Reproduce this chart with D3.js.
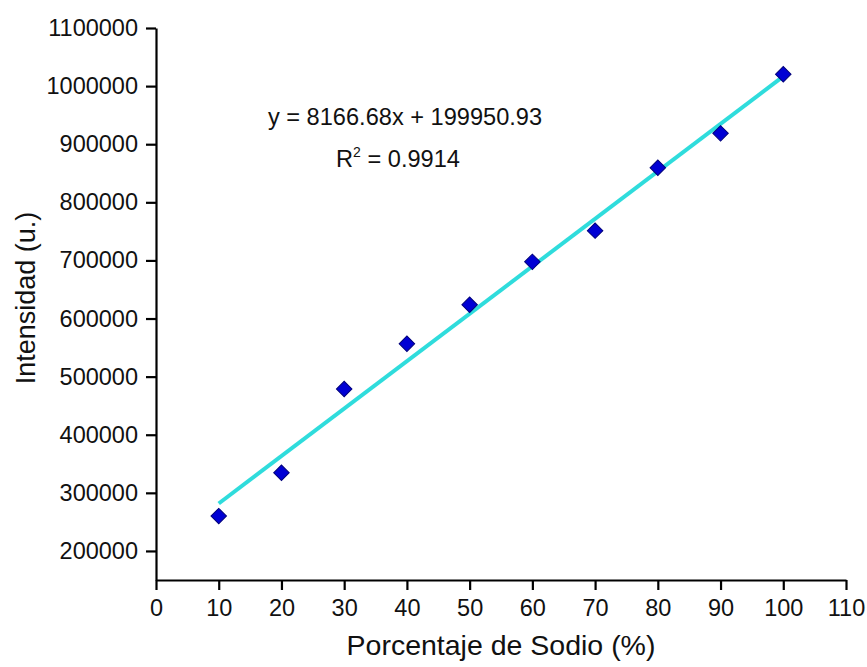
<!DOCTYPE html>
<html>
<head>
<meta charset="utf-8">
<script src="https://cdn.jsdelivr.net/npm/d3@7"></script>
<style>
  html, body { margin: 0; padding: 0; background: #fff; }
  svg { display: block; font-family: "Liberation Sans", Arial, sans-serif; }
</style>
</head>
<body>
<svg id="chart" width="867" height="667"></svg>
<script>
// Sodium percentage vs. measured intensity, with linear fit
const sodioPct = [10, 20, 30, 40, 50, 60, 70, 80, 90, 100];
const intensidad = [260000, 334600, 478700, 556600, 623800, 697500, 751200, 859600, 918700, 1020300];
const fitSlope = 8166.68;
const fitIntercept = 199950.93;
const fitR2 = 0.9914;
const xTicks = [0, 10, 20, 30, 40, 50, 60, 70, 80, 90, 100, 110];
const yTicks = [200000, 300000, 400000, 500000, 600000, 700000, 800000, 900000, 1000000, 1100000];

const svg = d3.select("#chart");

const x = d3.scaleLinear().domain([0, 110]).range([156, 846]);
const y = d3.scaleLinear().domain([150000, 1100000]).range([580, 28]);

// axes
const xAxis = d3.axisBottom(x).tickValues(xTicks).tickFormat(d3.format("d"))
  .tickSize(10).tickSizeOuter(0).tickPadding(6);
const yAxis = d3.axisLeft(y).tickValues(yTicks).tickFormat(d3.format("d"))
  .tickSize(10).tickSizeOuter(0).tickPadding(8);

const gx = svg.append("g").attr("transform", `translate(0,${y.range()[0]})`).call(xAxis);
const gy = svg.append("g").attr("transform", `translate(${x.range()[0]},0)`).call(yAxis);

[gx, gy].forEach(g => {
  g.select(".domain").attr("stroke", "#000").attr("stroke-width", 2.2);
  g.selectAll(".tick line").attr("stroke", "#000").attr("stroke-width", 2.2);
  g.selectAll(".tick text").attr("fill", "#111").style("font-size", "23.5px")
    .style("font-family", "'Liberation Sans', Arial, sans-serif");
});
gx.selectAll(".tick text").attr("dy", "0.85em");

// regression line over the measured range
const fitPts = d3.extent(sodioPct).map(v => [v, fitSlope * v + fitIntercept]);
svg.append("path")
  .datum(fitPts)
  .attr("d", d3.line().x(d => x(d[0])).y(d => y(d[1])))
  .attr("fill", "none")
  .attr("stroke", "#2fdcdc")
  .attr("stroke-width", 4);

// data markers (diamonds)
const diamond = d3.symbol().type(d3.symbolSquare).size(120);
svg.append("g").selectAll("path")
  .data(sodioPct.map((v, i) => [v, intensidad[i]]))
  .join("path")
  .attr("d", diamond)
  .attr("transform", d => `translate(${x(d[0])},${y(d[1])}) rotate(45)`)
  .attr("fill", "#0000d4")
  .attr("stroke", "#00007a")
  .attr("stroke-width", 1);

// fit annotation
svg.append("text")
  .attr("x", 405).attr("y", 125)
  .attr("text-anchor", "middle")
  .style("font-size", "23.6px").attr("fill", "#111")
  .text(`y = ${fitSlope.toFixed(2)}x + ${fitIntercept.toFixed(2)}`);

const r2 = svg.append("text")
  .attr("x", 398).attr("y", 167)
  .attr("text-anchor", "middle")
  .style("font-size", "23.6px").attr("fill", "#111");
r2.append("tspan").text("R");
r2.append("tspan").attr("dy", -10).style("font-size", "14px").text("2");
r2.append("tspan").attr("dy", 10).text(` = ${fitR2.toFixed(4)}`);

// axis titles
svg.append("text")
  .attr("x", 501).attr("y", 655)
  .attr("text-anchor", "middle")
  .style("font-size", "28.5px").attr("fill", "#111")
  .text("Porcentaje de Sodio (%)");

svg.append("text")
  .attr("transform", "translate(35,298) rotate(-90)")
  .attr("text-anchor", "middle")
  .style("font-size", "27px").attr("fill", "#111")
  .text("Intensidad (u.)");
</script>
</body>
</html>
